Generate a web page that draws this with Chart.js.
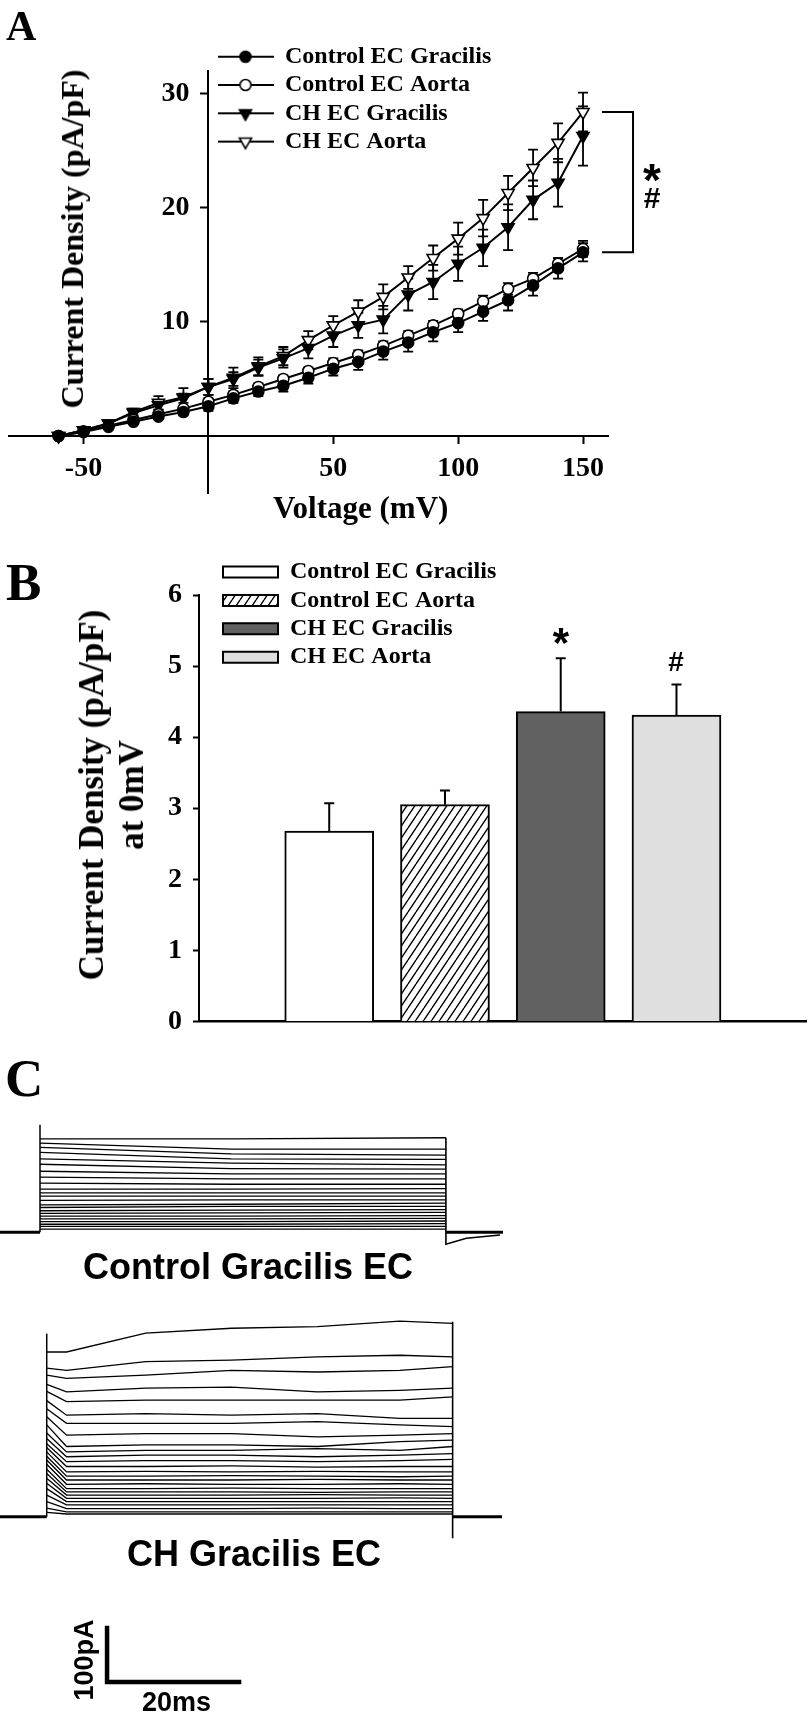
<!DOCTYPE html>
<html><head><meta charset="utf-8">
<script src="https://cdn.jsdelivr.net/npm/chart.js@4.4.1/dist/chart.umd.min.js"></script>
<style>
html,body{margin:0;padding:0;background:#fff;}
body{width:808px;height:1712px;position:relative;overflow:hidden;}
canvas{position:absolute;display:block;}
.t{position:absolute;white-space:nowrap;line-height:1;color:#000;font-weight:bold;z-index:5;}
.serif{font-family:'Liberation Serif','Times New Roman',serif;}
.sans{font-family:'Liberation Sans',Arial,sans-serif;}
.c{transform:translate(-50%,-50%);}
.rot{transform:translate(-50%,-50%) rotate(-90deg);text-align:center;}
</style></head><body>
<canvas id="cA" width="808" height="540" style="left:0;top:0;width:808px;height:540px"></canvas>
<canvas id="cB" width="808" height="520" style="left:0;top:540px;width:808px;height:520px"></canvas>
<canvas id="cC1" width="503" height="142" style="left:0;top:1112px;width:503px;height:142px"></canvas>
<canvas id="cC2" width="502" height="396" style="left:0;top:1300px;width:502px;height:396px"></canvas>

<div class="t serif" style="font-size:42px;left:6px;top:5px;">A</div>
<div class="t serif rot" style="font-size:32px;left:72px;top:239px;">Current Density (pA/pF)</div>
<div class="t serif" style="font-size:31px;left:273px;top:492px;">Voltage (mV)</div>
<div class="t sans c" style="font-size:46px;left:652px;top:180px;">*</div>
<div class="t sans c" style="font-size:30px;left:652px;top:198px;">#</div>

<div class="t serif" style="font-size:53px;left:6px;top:556px;">B</div>
<div class="t serif rot" style="font-size:35px;line-height:40px;left:112px;top:795px;">Current Density (pA/pF)<br>at 0mV</div>
<div class="t sans c" style="font-size:42px;left:561px;top:643px;">*</div>
<div class="t sans c" style="font-size:28px;left:676px;top:662px;">#</div>

<div class="t serif" style="font-size:53px;left:5px;top:1052px;">C</div>
<div class="t sans" style="font-size:36px;left:83px;top:1249px;">Control Gracilis EC</div>
<div class="t sans" style="font-size:36px;left:127px;top:1536px;">CH Gracilis EC</div>
<div class="t sans rot" style="font-size:27px;left:84px;top:1660px;">100pA</div>
<div class="t sans" style="font-size:27px;left:142px;top:1689px;">20ms</div>

<script>
// ---------- Panel A data ----------
const voltages = [-60,-50,-40,-30,-20,-10,0,10,20,30,40,50,60,70,80,90,100,110,120,130,140,150];
const ctlGracilis    = [0,0.35,0.8,1.25,1.7,2.1,2.6,3.3,3.9,4.4,5.1,5.9,6.5,7.4,8.2,9.1,9.9,10.9,11.9,13.2,14.7,16.1];
const ctlGracilisErr = [0,0.1,0.1,0.2,0.2,0.3,0.4,0.4,0.4,0.5,0.5,0.6,0.7,0.7,0.8,0.8,0.8,0.8,0.9,0.9,0.9,0.8];
const ctlAorta       = [0,0.4,0.9,1.4,1.9,2.4,3.0,3.6,4.3,5.0,5.7,6.4,7.1,7.9,8.8,9.7,10.7,11.8,12.9,13.8,15.1,16.4];
const ctlAortaErr    = [0,0.1,0.1,0.1,0.2,0.2,0.3,0.3,0.3,0.3,0.3,0.4,0.4,0.4,0.4,0.4,0.4,0.5,0.5,0.5,0.5,0.7];
const chGracilis     = [0,0.5,1.1,2.0,2.7,3.3,4.3,5.0,6.0,6.8,7.7,8.8,9.7,10.2,12.4,13.5,15.1,16.5,18.3,20.7,22.2,26.3];
const chGracilisErr  = [0,0.1,0.2,0.3,0.4,0.4,0.7,0.6,0.7,0.8,0.9,1.0,1.1,1.2,1.4,1.5,1.5,1.6,2.0,1.7,2.1,2.6];
const chAorta        = [0,0.5,1.1,2.1,2.9,3.4,4.3,5.1,6.1,7.0,8.4,9.7,10.9,12.2,13.9,15.6,17.3,19.1,21.3,23.5,25.7,28.4];
const chAortaErr     = [0,0.1,0.2,0.3,0.6,0.8,0.7,0.9,0.8,0.8,0.8,0.8,1.0,1.1,1.0,1.1,1.4,1.6,1.5,1.6,1.7,1.7];
const seriesLabels = ['Control EC Gracilis','Control EC Aorta','CH EC Gracilis','CH EC Aorta'];
const xTicksA = [-50, 50, 100, 150];
const yTicksA = [10, 20, 30];

// ---------- Panel B data ----------
const barCategories = ['Control EC Gracilis','Control EC Aorta','CH EC Gracilis','CH EC Aorta'];
const barValues = [2.68, 3.05, 4.36, 4.31];
const barErrors = [0.39, 0.20, 0.75, 0.43];
const yTicksB = [0, 1, 2, 3, 4, 5, 6];

// ---------- Panel C data (pA vs ms) ----------
const pulseEnd = 61.5;
const ctlTimes = [0, 29, 61.5];
const ctlTraces = [
  [173,173,175],[165,154,154],[157,145,143],[148,136,135],[136,128,125],[126,118,117],
  [113,108,108],[102,99,99],[91,89,89],[80,80,81],[73,73,73],[67,67,67],[59,60,60],
  [51,52,54],[46,48,48],[40,41,42],[35,36,37],[30,30,31],[25,25,26],[20,20,21],
  [15,15,16],[11,11,11],[6,6,6]
];
const ctlOnsetPeak = 199;
const ctlOffset = [175, -22];
const ctlTailTimes = [64.6, 69.7];
const ctlTailValues = [-11, -5];

const chTimes = [0, 3, 15, 28, 41, 53.5, 61.5];
const chTraces = [
  [305,305,340,349,352,362,358],[275,271,287,290,296,299,296],[262,256,262,271,268,271,278],
  [245,231,238,240,231,234,238],[232,213,216,216,216,216,222],[215,188,191,188,191,182,182],
  [200,173,173,173,176,170,167],[185,151,154,154,148,151,154],[170,130,133,133,130,139,142],
  [155,120,123,123,126,123,130],[145,111,114,114,111,114,117],[135,102,104,104,102,104,106],
  [128,93,93,94,92,93,93],[120,83,84,83,84,83,83],[112,75,75,76,75,74,75],[105,68,68,68,69,68,68],
  [97,60,61,60,60,61,60],[88,52,52,53,52,52,52],[80,46,46,46,45,46,46],[71,40,40,40,41,40,40],
  [62,34,34,34,34,35,34],[52,28,28,28,28,28,28],[40,22,22,22,22,22,22],[28,15,15,15,16,15,15],
  [16,9,9,9,9,9,9],[8,5,5,5,5,5,5]
];
const chOnsetPeak = 339;
const chOffset = [361, -40];
const scaleBarPA = 100;
const scaleBarMS = 20;

// ---------- common ----------
const SERIF = "'Liberation Serif','Times New Roman',serif";
Chart.defaults.font.family = SERIF;
Chart.defaults.color = '#000';
Chart.defaults.animation = false;

const errBars = {
  id: 'errBars',
  beforeDatasetsDraw(chart, args, o) { if (!o.after) this.draw(chart, o); },
  afterDatasetsDraw(chart, args, o) { if (o.after) this.draw(chart, o); },
  draw(chart, o) {
    const ctx = chart.ctx, xs = chart.scales.x, ys = chart.scales.y;
    ctx.save(); ctx.strokeStyle = '#000'; ctx.lineWidth = o.width || 2;
    chart.data.datasets.forEach(ds => {
      if (!ds.errors) return;
      ds.data.forEach((p, j) => {
        const e = ds.errors[j]; if (!e) return;
        const x = xs.getPixelForValue(p.x);
        const yt = ys.getPixelForValue(p.y + e);
        const yb = o.upOnly ? ys.getPixelForValue(p.y) : ys.getPixelForValue(p.y - e);
        ctx.beginPath();
        ctx.moveTo(x, yb); ctx.lineTo(x, yt);
        ctx.moveTo(x - o.cap, yt); ctx.lineTo(x + o.cap, yt);
        if (!o.upOnly) { ctx.moveTo(x - o.cap, yb); ctx.lineTo(x + o.cap, yb); }
        ctx.stroke();
      });
    });
    ctx.restore();
  }
};

function placeLegend(x, rowCenterY) {
  return {
    id: 'placeLegend',
    beforeDraw(chart) {
      const lg = chart.legend; if (!lg) return;
      const pad = lg.options.labels.padding;
      const fs = lg.options.labels.font.size;
      lg.left = x - pad; lg.top = rowCenterY - fs / 2 - pad;
      lg.right = lg.left + 400; lg.bottom = chart.height;
    }
  };
}

// ---------- Panel A ----------
function legendIcon(style, filled) {
  const c = document.createElement('canvas'); c.width = 56; c.height = 18;
  const g = c.getContext('2d');
  g.strokeStyle = '#000'; g.lineWidth = 2;
  g.beginPath(); g.moveTo(0, 9); g.lineTo(56, 9); g.stroke();
  g.fillStyle = filled ? '#000' : '#fff'; g.lineWidth = 1.6;
  Chart.helpers.drawPoint(g, {pointStyle: style, rotation: style === 'triangle' ? 180 : 0,
    radius: style === 'triangle' ? 7 : 5.5, borderWidth: 1.6}, 28, 9);
  return c;
}
const aStyles = ['circle','circle','triangle','triangle'];
const aFilled = [true,false,true,false];
const aValues = [ctlGracilis, ctlAorta, chGracilis, chAorta];
const aErrors = [ctlGracilisErr, ctlAortaErr, chGracilisErr, chAortaErr];
const aIcons = aStyles.map((s,i) => legendIcon(s, aFilled[i]));

const yLabelShift = {
  id: 'yLabelShift',
  beforeDraw(chart) {
    const s = chart.scales.y;
    if (!s.getLabelItems) return;
    const xr = chart.scales.x.getPixelForValue(0) - 19;
    s.getLabelItems(chart.chartArea).forEach(it => { it.options.translation[0] = xr; it.options.textAlign = 'right'; });
  }
};
const bracket = {
  id: 'bracket',
  afterDatasetsDraw(chart) {
    const ctx = chart.ctx, xs = chart.scales.x, ys = chart.scales.y;
    const n = voltages.length - 1;
    const xp = xs.getPixelForValue(voltages[n]);
    const yTop = ys.getPixelForValue(Math.max(chAorta[n], chGracilis[n]));
    const yBot = ys.getPixelForValue(Math.min(ctlAorta[n], ctlGracilis[n]));
    ctx.save(); ctx.strokeStyle = '#000'; ctx.lineWidth = 2;
    ctx.beginPath();
    ctx.moveTo(xp + 19, yTop); ctx.lineTo(xp + 50, yTop); ctx.lineTo(xp + 50, yBot); ctx.lineTo(xp + 19, yBot);
    ctx.stroke(); ctx.restore();
  }
};

const tickFont = {family: SERIF, size: 28, weight: 'bold', lineHeight: 1.2};
const legendFont = {family: SERIF, size: 24, weight: 'bold'};

new Chart(document.getElementById('cA'), {
  type: 'line',
  data: {
    datasets: seriesLabels.map((lab, i) => ({
      label: lab,
      data: voltages.map((v, j) => ({x: v, y: aValues[i][j]})),
      errors: aErrors[i],
      borderColor: '#000', borderWidth: 2, tension: 0, fill: false, clip: false,
      pointStyle: aStyles[i], pointRotation: aStyles[i] === 'triangle' ? 180 : 0,
      pointRadius: aStyles[i] === 'triangle' ? 7 : 5.5,
      pointBackgroundColor: aFilled[i] ? '#000' : '#fff', pointBorderColor: '#000', pointBorderWidth: 1.6
    }))
  },
  options: {
    responsive: false, devicePixelRatio: 1,
    layout: {padding: {left: 5, right: 200, top: 71, bottom: 47}},
    scales: {
      x: {type: 'linear', min: -80, max: 160, position: {y: 0},
        afterBuildTicks: s => { s.ticks = xTicksA.map(v => ({value: v})); },
        grid: {display: true, drawOnChartArea: false, drawTicks: true, tickLength: 7, tickWidth: 2, tickColor: '#000'},
        border: {display: true, color: '#000', width: 2},
        ticks: {font: tickFont, color: '#000', padding: 9, maxRotation: 0, autoSkip: false}},
      y: {type: 'linear', min: -5, max: 32, position: {x: 0},
        afterBuildTicks: s => { s.ticks = yTicksA.map(v => ({value: v})); },
        grid: {display: true, drawOnChartArea: false, drawTicks: true, tickLength: 7, tickWidth: 2, tickColor: '#000'},
        border: {display: true, color: '#000', width: 2},
        ticks: {font: tickFont, color: '#000', padding: 12, autoSkip: false}}
    },
    plugins: {
      tooltip: {enabled: false},
      errBars: {cap: 5, width: 1.8, after: false},
      legend: {display: true, position: 'chartArea', align: 'start',
        labels: {usePointStyle: true, pointStyleWidth: 55, padding: 4.3, font: legendFont, color: '#000',
          generateLabels: chart => chart.data.datasets.map((d, i) => ({
            text: d.label, pointStyle: aIcons[i], fillStyle: '#000', strokeStyle: '#000',
            lineWidth: 0, hidden: false, datasetIndex: i, fontColor: '#000'}))}}
    }
  },
  plugins: [errBars, bracket, yLabelShift, placeLegend(218, 56.7)]
});

// ---------- Panel B ----------
const ctxB = document.getElementById('cB').getContext('2d');
function hatchPattern() {
  const w = 8, h = 12;
  const c = document.createElement('canvas'); c.width = w; c.height = h;
  const g = c.getContext('2d');
  g.fillStyle = '#fff'; g.fillRect(0, 0, w, h);
  g.strokeStyle = '#000'; g.lineWidth = 1.4; g.beginPath();
  [-w, 0, w].forEach(o => { g.moveTo(o, h); g.lineTo(o + w, 0); });
  g.stroke();
  return ctxB.createPattern(c, 'repeat');
}
const barFills = ['#ffffff', hatchPattern(), '#616161', '#dfdfdf'];

new Chart(ctxB, {
  type: 'bar',
  data: {
    datasets: barCategories.map((c, i) => ({
      label: c,
      data: [{x: i + 1, y: barValues[i]}],
      errors: [barErrors[i]],
      backgroundColor: barFills[i], borderColor: '#000', borderWidth: 2,
      barThickness: 89, grouped: false, borderSkipped: 'start'
    }))
  },
  options: {
    responsive: false, devicePixelRatio: 1,
    layout: {padding: {left: 99, right: 1.3, top: 55, bottom: 38.5}},
    scales: {
      x: {type: 'linear', min: -0.125, max: 5.125, offset: false,
        afterFit: s => { s.height = 0; },
        grid: {display: false, offset: false}, ticks: {display: false},
        border: {display: true, color: '#000', width: 2.5}},
      y: {type: 'linear', min: 0, max: 6,
        afterBuildTicks: s => { s.ticks = yTicksB.map(v => ({value: v})); },
        afterFit: s => { s.width = 100; },
        grid: {display: true, drawOnChartArea: false, drawTicks: true, tickLength: 6, tickWidth: 2, tickColor: '#000'},
        border: {display: true, color: '#000', width: 2},
        ticks: {font: tickFont, color: '#000', padding: 11, autoSkip: false}}
    },
    plugins: {
      tooltip: {enabled: false},
      errBars: {cap: 5, width: 2, after: true, upOnly: true},
      legend: {display: true, position: 'chartArea', align: 'start',
        labels: {boxWidth: 55, boxHeight: 11, padding: 4.4, font: legendFont, color: '#000'}}
    }
  },
  plugins: [errBars, placeLegend(223, 32)]
});

// ---------- Panel C ----------
function lineDs(points, w) {
  return {data: points, borderColor: '#000', borderWidth: w, pointRadius: 0, fill: false, tension: 0, clip: false};
}
function traceChart(id, times, traces, onsetPeak, offset, tailT, tailV, xMin, xMax, yMin, yMax, extra) {
  const ds = [];
  ds.push(lineDs([{x: xMin, y: 0}, {x: 0, y: 0}], 3));
  ds.push(lineDs([{x: 0, y: 0}, {x: 0, y: onsetPeak}], 1.5));
  traces.forEach(tr => ds.push(lineDs(times.map((t, k) => ({x: t, y: tr[k]})), 1.3)));
  ds.push(lineDs([{x: pulseEnd, y: offset[0]}, {x: pulseEnd, y: offset[1]}].concat(tailT.map((t, k) => ({x: t, y: tailV[k]}))), 1.6));
  ds.push(lineDs([{x: pulseEnd, y: 0}, {x: xMax, y: 0}], 3));
  if (extra) extra.forEach(e => ds.push(e));
  new Chart(document.getElementById(id), {
    type: 'line',
    data: {datasets: ds},
    options: {
      responsive: false, devicePixelRatio: 1,
      layout: {padding: 0},
      scales: {
        x: {type: 'linear', display: false, min: xMin, max: xMax},
        y: {type: 'linear', display: false, min: yMin, max: yMax}
      },
      plugins: {legend: {display: false}, tooltip: {enabled: false}}
    }
  });
}
traceChart('cC1', ctlTimes, ctlTraces, ctlOnsetPeak, ctlOffset, ctlTailTimes, ctlTailValues,
  -6.06, 70.15, -40, 222.6);

const sbT = 9.14, sbY = -306;
const scaleBar = Object.assign(lineDs([{x: sbT, y: sbY + scaleBarPA}, {x: sbT, y: sbY}, {x: sbT + scaleBarMS, y: sbY}], 4.5), {borderCapStyle: 'square', borderJoinStyle: 'miter'});
traceChart('cC2', chTimes, chTraces, chOnsetPeak, chOffset, [], [],
  -7.08, 68.98, -332, 401.3, [scaleBar]);
</script>
</body></html>
